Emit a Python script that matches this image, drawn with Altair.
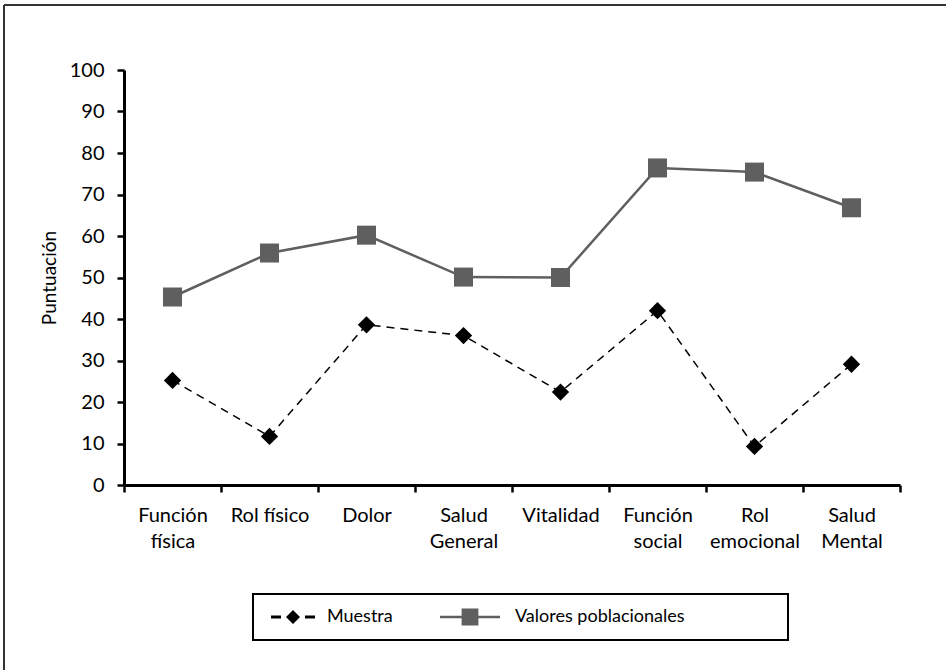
import altair as alt
import pandas as pd

# SF-36 dimensions (line breaks mark where the axis label wraps)
categorias = [
    "Función\nfísica",
    "Rol físico",
    "Dolor",
    "Salud\nGeneral",
    "Vitalidad",
    "Función\nsocial",
    "Rol\nemocional",
    "Salud\nMental",
]
muestra = [25.2, 11.7, 38.6, 36.0, 22.4, 42.0, 9.3, 29.1]
valores = [45.3, 55.9, 60.2, 50.1, 50.0, 76.4, 75.4, 66.8]

series = ["Muestra", "Valores poblacionales"]
ticks_y = [0, 10, 20, 30, 40, 50, 60, 70, 80, 90, 100]

df = pd.DataFrame(
    {
        "dimension": categorias * 2,
        "serie": [series[0]] * len(muestra) + [series[1]] * len(valores),
        "puntuacion": muestra + valores,
    }
)

FONT = "Lato"
GRIS = "#5f5f5f"

# legend symbols drawn as line + marker (units of half the symbol size)
sym_muestra = (
    "M-1.375,-0.19H-0.125V0.19H-1.375Z "
    "M1.375,-0.875L2.25,0L1.375,0.875L0.5,0Z "
    "M2.875,-0.19H4.125V0.19H2.875Z"
)
sym_valores = "M-3.75,-0.15H3.75V0.15H-3.75Z M-1.05,-1.05H1.05V1.05H-1.05Z"

x_enc = alt.X(
    "dimension:N",
    sort=categorias,
    scale=alt.Scale(type="band", domain=categorias, paddingInner=0, paddingOuter=0),
    axis=alt.Axis(
        title=None,
        labelAngle=0,
        labelExpr="split(datum.label, '\\n')",
        labelFont=FONT,
        labelFontSize=20,
        labelColor="black",
        labelLineHeight=26,
        labelPadding=13,
        labelBaseline="top",
        tickBand="extent",
        tickSize=7,
        tickWidth=2.5,
        tickColor="black",
        domainColor="black",
        domainWidth=3,
        grid=False,
    ),
)
y_enc = alt.Y(
    "puntuacion:Q",
    scale=alt.Scale(domain=[0, 100], nice=False),
    axis=alt.Axis(
        title="Puntuación",
        values=ticks_y,
        labelFont=FONT,
        labelFontSize=20,
        labelColor="black",
        labelPadding=13,
        tickSize=7,
        tickWidth=2.5,
        tickColor="black",
        domainColor="black",
        domainWidth=3,
        grid=False,
        titleFont=FONT,
        titleFontSize=19,
        titleFontWeight="normal",
        titleColor="black",
        titlePadding=10,
    ),
)

base = alt.Chart(df).encode(x=x_enc, y=y_enc)

linea_v = base.transform_filter(alt.datum.serie == series[1]).mark_line(
    color=GRIS, strokeWidth=2.5
)
puntos_v = base.transform_filter(alt.datum.serie == series[1]).mark_point(
    shape="square", filled=True, size=361, color=GRIS, opacity=1
)
linea_m = base.transform_filter(alt.datum.serie == series[0]).mark_line(
    color="black", strokeWidth=1.5, strokeDash=[8, 6]
)
puntos_m = base.transform_filter(alt.datum.serie == series[0]).mark_point(
    shape="diamond", filled=True, size=300, color="black", opacity=1
)

leyenda = alt.Legend(
    title=None,
    orient="none",
    direction="horizontal",
    legendX=129,
    legendY=524,
    padding=14,
    labelFont=FONT,
    labelFontSize=18,
    labelColor="black",
    labelLimit=500,
    labelOffset=36,
    symbolOffset=6,
    symbolSize=256,
    symbolStrokeWidth=0,
    columnPadding=47,
)

# legend-only layer: no rows survive the filter, the scales carry the entries
capa_leyenda = base.transform_filter("false").mark_point(
    filled=True, size=256, opacity=1
).encode(
    color=alt.Color(
        "serie:N",
        scale=alt.Scale(domain=series, range=["black", GRIS]),
        legend=leyenda,
    ),
    shape=alt.Shape(
        "serie:N",
        scale=alt.Scale(domain=series, range=[sym_muestra, sym_valores]),
        legend=leyenda,
    ),
)

# outer frame (top and left edges) and the box around the legend
marco = alt.Data(values=[{"k": 0}])
marco_izq = alt.Chart(marco).mark_rule(color="#333333", strokeWidth=2).encode(
    x=alt.value(-120), y=alt.value(-65), y2=alt.value(600)
)
marco_sup = alt.Chart(marco).mark_rule(color="#333333", strokeWidth=2).encode(
    x=alt.value(-120), x2=alt.value(822), y=alt.value(-65)
)
caja_leyenda = alt.Chart(marco).mark_rect(
    fill="white", stroke="black", strokeWidth=2
).encode(
    x=alt.value(129), x2=alt.value(664), y=alt.value(524), y2=alt.value(570)
)

chart = (
    alt.layer(
        marco_izq, marco_sup, caja_leyenda,
        linea_v, linea_m, puntos_v, puntos_m, capa_leyenda,
    )
    .properties(
        width=776,
        height=415,
        autosize=alt.AutoSizeParams(type="none"),
        padding={"left": 124, "top": 70, "right": 46, "bottom": 185},
        background="white",
    )
    .configure_view(stroke=None)
)

chart.save("out.html", embed_options={"renderer": "svg", "actions": False})
